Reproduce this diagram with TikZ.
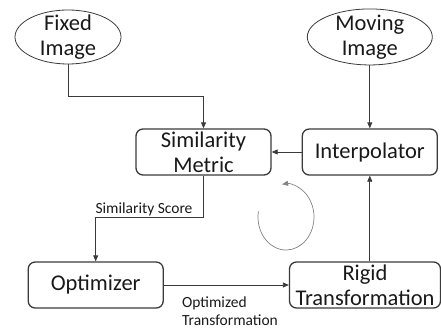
\documentclass[tikz,border=0pt]{standalone}
\usepackage{fontspec}
\setmainfont{Carlito}
\usetikzlibrary{positioning, shapes.geometric, arrows.meta}
\definecolor{linegray}{HTML}{3A3A3A}
\definecolor{loopgray}{HTML}{828282}
\tikzset{
	every node/.append style={
		text=black!90,
	},
	block/.append style={
		draw=linegray,
		rounded corners=7pt,
		line width=1.3pt,
		align=center,
		inner sep=0pt,
		minimum width=135pt,
		minimum height=46pt,
		font={\fontsize{22.5}{25}\selectfont},
	},
	source/.append style={
		ellipse,
		draw=linegray,
		line width=0.8pt,
		align=center,
		inner xsep=0pt,
		inner ysep=-6pt,
		font={\fontsize{22.5}{25}\selectfont},
	},
	labe/.append style={
		align=left,
		inner sep=1pt,
		font={\fontsize{15.5}{18}\selectfont},
	},
	link/.append style={
		draw=linegray,
		line width=0.8pt,
		-{Triangle[length=6pt,width=5pt]},
	},
}

\begin{document}
\begin{tikzpicture}[x=1pt, y=-1pt]
\useasboundingbox (0,0) rectangle (441,332);

\node(sim)[block] at (203.5,152) {Similarity\\Metric};
\node(interp)[block, right = 30pt of sim]{Interpolator};
\node(moving)[source, minimum width=125pt, minimum height=56pt, above = 63pt of interp]{Moving\\Image};
\node(fixed)[source, minimum width=106pt, minimum height=54pt] at (68,37) {Fixed\\Image};

\node(rigid)[block, minimum width=151pt] at (365,285) {Rigid\\Transformation};
\node(opt)[block, left = 125pt of rigid]{Optimizer};

\draw[link] (fixed.south) |- ([yshift=32pt]sim.north) -- (sim.north);
\draw[link] (moving) -- (interp);
\draw[link] (interp.west |- sim.east) -- (sim.east);

\draw[link] (sim.south) |- node(lblscore)[labe, pos=0.776, above]{Similarity Score} ([yshift=44pt]opt.north) -- (opt.north);
\draw[link] (opt) -- node(lbltrans)[labe, pos=0.135, anchor=north west, yshift=-10pt]{Optimized\\Transformation} (rigid);
\draw[link] (rigid.north -| interp.south) -- (interp.south);

% loop
\draw[loopgray, line width=0.7pt, -{Triangle[length=6pt,width=5pt]}] (286,217) ++(170:28pt and 33pt) arc[start angle=170, end angle=458, x radius=28pt, y radius=33pt];
\end{tikzpicture}
\end{document}
